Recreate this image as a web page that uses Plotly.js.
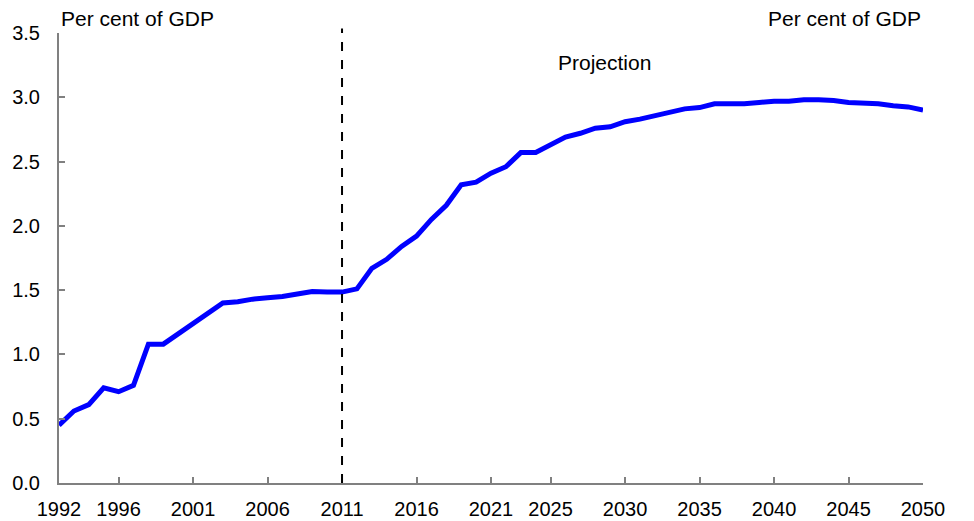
<!DOCTYPE html>
<html>
<head>
<meta charset="utf-8">
<script src="https://cdn.plot.ly/plotly-3.0.1.min.js"></script>
<style>html,body{margin:0;padding:0;background:#fff}</style>
</head>
<body>
<div id="chart" style="width:974px;height:521px"></div>
<script>
const years = [];
for (let y = 1992; y <= 2050; y++) years.push(y);
const values = [
  0.45, 0.56, 0.61, 0.74, 0.71, 0.76, 1.08, 1.08, 1.16, 1.24,
  1.33, 1.40, 1.41, 1.43, 1.44, 1.45, 1.47, 1.49, 1.485, 1.485,
  1.51, 1.67, 1.74, 1.84, 1.92, 2.05, 2.16, 2.32, 2.34, 2.41,
  2.46, 2.57, 2.57, 2.63, 2.69, 2.72, 2.76, 2.77, 2.81, 2.83,
  2.86, 2.88, 2.91, 2.92, 2.95, 2.95, 2.95, 2.96, 2.97, 2.97,
  2.98, 2.98, 2.975, 2.96, 2.955, 2.95, 2.935, 2.925, 2.90
];
const xTicks = [1992, 1996, 2001, 2006, 2011, 2016, 2021, 2025, 2030, 2035, 2040, 2045, 2050];
const yTicks = [0, 0.5, 1, 1.5, 2, 2.5, 3, 3.5];
const yTickText = ['0.0','0.5','1.0','1.5','2.0','2.5','3.0','3.5'];
const projectionYear = 2011;
const unitLabel = 'Per cent of GDP';
const projLabel = 'Projection';

const font = {family: 'Liberation Sans, Arial, sans-serif', size: 21, color: '#000'};
const tickFont = {family: 'Liberation Sans, Arial, sans-serif', size: 20, color: '#000'};
const axisCommon = {
  showgrid: false, zeroline: false, showline: true, linecolor: '#808080', linewidth: 2,
  ticks: 'inside', ticklen: 6, tickwidth: 2, tickcolor: '#808080',
  tickfont: tickFont, fixedrange: true
};

const data = [{
  x: years, y: values, type: 'scatter', mode: 'lines',
  line: {color: '#0000FF', width: 5}, hoverinfo: 'skip'
}];

const layout = {
  width: 974, height: 521,
  margin: {l: 59, r: 51, t: 33, b: 38},
  paper_bgcolor: '#fff', plot_bgcolor: '#fff',
  showlegend: false,
  font: font,
  xaxis: Object.assign({}, axisCommon, {
    range: [1992, 2050], tickmode: 'array', tickvals: xTicks,
    ticktext: xTicks.map(String), ticklabelstandoff: 7
  }),
  yaxis: Object.assign({}, axisCommon, {
    range: [0, 3.5], tickmode: 'array', tickvals: yTicks, ticktext: yTickText,
    ticklabelstandoff: 13
  }),
  yaxis2: Object.assign({}, axisCommon, {
    range: [0, 3.5], tickmode: 'array', tickvals: yTicks, ticktext: yTickText,
    overlaying: 'y', side: 'right', anchor: 'x', ticklabelstandoff: 17
  }),
  shapes: [{
    type: 'line', xref: 'x', yref: 'paper', x0: projectionYear, x1: projectionYear,
    y0: 0, y1: 1.01, line: {color: '#000', width: 2, dash: 'dash'}
  }],
  annotations: [
    {text: unitLabel, xref: 'paper', yref: 'paper', x: 0, y: 1, xanchor: 'left', yanchor: 'bottom',
     showarrow: false, font: font, yshift: 1},
    {text: unitLabel, xref: 'paper', yref: 'paper', x: 1, y: 1, xanchor: 'right', yanchor: 'bottom',
     showarrow: false, font: font, yshift: 1},
    {text: projLabel, xref: 'x', yref: 'paper', x: 2028.6, y: 0.935, xanchor: 'center', yanchor: 'middle',
     showarrow: false, font: font}
  ]
};

Plotly.newPlot('chart', data, layout, {displayModeBar: false, staticPlot: true});
</script>
</body>
</html>
